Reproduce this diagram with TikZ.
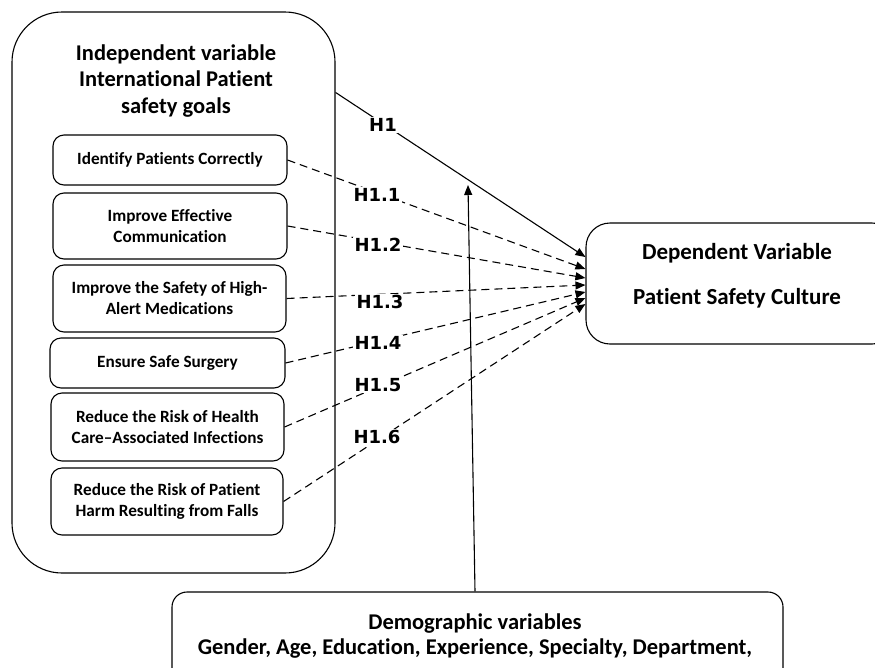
\documentclass[tikz,border=0pt]{standalone}
\usepackage{fontspec}
\setmainfont{Carlito}[Ligatures={NoCommon,NoContextual},Contextuals=NoAlternate]
\newfontfamily\hfont{DejaVu Sans}
\usetikzlibrary{arrows.meta}
\begin{document}
\begin{tikzpicture}[x=1pt,y=-1pt,
  frame/.style={draw, line width=1.1pt, rectangle, inner sep=0pt},
  goalbox/.style={frame, rounded corners=11pt, minimum width=#1, align=center,
    font=\bfseries\fontsize{17.2}{21}\selectfont},
  link/.style={line width=1.1pt, -{Triangle[length=10pt,width=8pt]}},
  dashlink/.style={link, dash pattern=on 8pt off 5pt},
  hyp/.style={fill=white, inner sep=1.5pt, font=\hfont\bfseries\fontsize{18}{21}\selectfont}]
\useasboundingbox (0,0) rectangle (875,667);

% independent variable group
\node[frame, rounded corners=50pt, minimum width=323pt, minimum height=561pt] (outer) at (173.5,292.5) {};
\node[align=center, font=\bfseries\fontsize{22.5}{26.5}\selectfont] (title) at (176,81)
  {Independent variable\\International Patient\\safety goals};

\node[goalbox=234pt, minimum height=50pt] (g1) at (170,160) {Identify Patients Correctly};
\node[goalbox=234pt, minimum height=66pt] (g2) at (170,226) {Improve Effective\\Communication};
\node[goalbox=233pt, minimum height=67pt] (g3) at (169.5,298.5) {Improve the Safety of High-\\Alert Medications};
\node[goalbox=235pt, minimum height=50pt] (g4) at (167.5,363) {Ensure Safe Surgery};
\node[goalbox=233pt, minimum height=68pt] (g5) at (167.5,427) {Reduce the Risk of Health\\Care\textendash Associated Infections};
\node[goalbox=232pt, minimum height=67pt] (g6) at (167,501.5) {Reduce the Risk of Patient\\Harm Resulting from Falls};

% dependent variable
\node[frame, rounded corners=24pt, minimum width=310pt, minimum height=121pt] (dep) at (741,283.5) {};
\node[align=center, font=\bfseries\fontsize{23}{45}\selectfont] (deptext) at (737,276)
  {Dependent Variable\\Patient Safety Culture};

% demographic variables
\node[frame, rounded corners=15pt, minimum width=611pt, minimum height=120pt] (demo) at (477.5,652) {};
\node[align=center, font=\bfseries\fontsize{22.5}{25.5}\selectfont] (demotext) at (475,636)
  {Demographic variables\\Gender, Age, Education, Experience, Specialty, Department,};

\coordinate (mod) at (468,185);

% connectors
\draw[link] ([yshift=-81pt]outer.north east) -- ([yshift=26.5pt]dep.west);
\draw[dashlink] (g1.east) -- ([yshift=14.5pt]dep.west);
\draw[dashlink] (g2.east) -- ([yshift=5.5pt]dep.west);
\draw[dashlink] (g3.east) -- ([yshift=-1.5pt]dep.west);
\draw[dashlink] (g4.east) -- ([yshift=-8.5pt]dep.west);
\draw[dashlink] (g5.east) -- ([yshift=-14.5pt]dep.west);
\draw[dashlink] (g6.east) -- ([yshift=-20.5pt]dep.west);
\draw[link] ([xshift=-2.5pt]demo.north) -- (mod);

% hypothesis labels
\node[hyp] (h1) at (383,125) {H1};
\node[hyp] (h11) at (377,195) {H1.1};
\node[hyp] (h12) at (378,245) {H1.2};
\node[hyp] (h13) at (380,302) {H1.3};
\node[hyp] (h14) at (378,343) {H1.4};
\node[hyp] (h15) at (378,385) {H1.5};
\node[hyp] (h16) at (377,437) {H1.6};
\end{tikzpicture}
\end{document}
